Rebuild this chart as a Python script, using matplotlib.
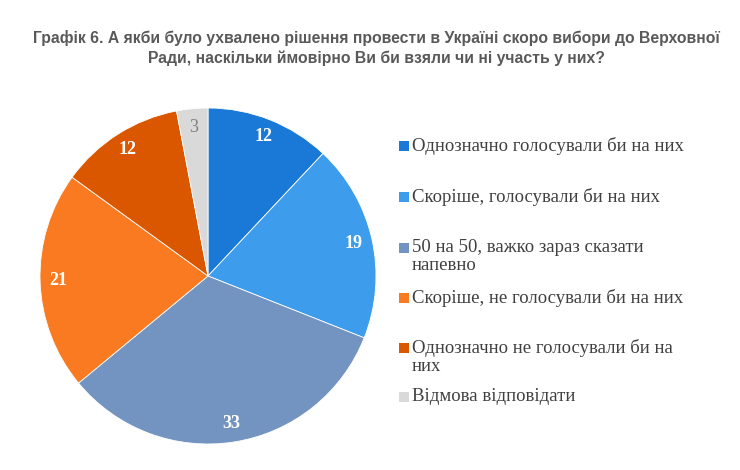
import numpy as np
import matplotlib.pyplot as plt
from matplotlib.patches import Rectangle

# donnees du graphique
categories = ["Однозначно голосували би на них",
              "Скоріше, голосували би на них",
              "50 на 50, важко зараз сказати\nнапевно",
              "Скоріше, не голосували би на них",
              "Однозначно не голосували би на\nних",
              "Відмова відповідати"]
values = [12, 19, 33, 21, 12, 3]
colors = ["#1a78d6", "#3d9ceb", "#7394c0", "#fa7a22", "#da5700", "#d9d9d9"]
label_colors = ["white", "white", "white", "white", "white", "#7f7f7f"]

title = ("Графік 6. А якби було ухвалено рішення провести в Україні скоро вибори до Верховної\n"
         "Ради, наскільки ймовірно Ви би взяли чи ні участь у них?")

W, H = 740, 470
fig = plt.figure(figsize=(W / 100, H / 100), dpi=100)

fig.text(376 / W, 1 - 48 / H, title, ha="center", va="center", fontsize=11.3,
         fontweight="bold", color="#595959", family="Liberation Sans",
         linespacing=1.3)

# camembert
cx, cy, r = 208, 276, 168
ax = fig.add_axes([(cx - r) / W, (H - cy - r) / H, 2 * r / W, 2 * r / H])
wedges, texts, autotexts = ax.pie(values, colors=colors, startangle=90, counterclock=False,
                                  radius=1, autopct=lambda p: f"{p:.0f}", pctdistance=0.89,
                                  wedgeprops=dict(edgecolor="white", linewidth=0.6))
for t, c in zip(autotexts, label_colors):
    t.set_color(c)
    t.set_fontsize(13)
    t.set_fontweight("bold" if c == "white" else "normal")
    t.set_family("Liberation Serif")
ax.set_xlim(-1, 1)
ax.set_ylim(-1, 1)
ax.set_aspect("equal")
ax.axis("off")

# legende faite a la main
y_rows = [146, 197, 248, 298, 348, 397]
for lab, col, yy in zip(categories, colors, y_rows):
    fig.patches.append(Rectangle((399 / W, 1 - (yy + 5) / H), 10 / W, 10 / H,
                                 transform=fig.transFigure, facecolor=col, edgecolor="none"))
    fig.text(412 / W, 1 - (yy - 9) / H, lab, ha="left", va="top", fontsize=13.5,
             color="#404040", family="Liberation Serif", linespacing=1.05)

fig.savefig("out.png", dpi=100, facecolor="white")
